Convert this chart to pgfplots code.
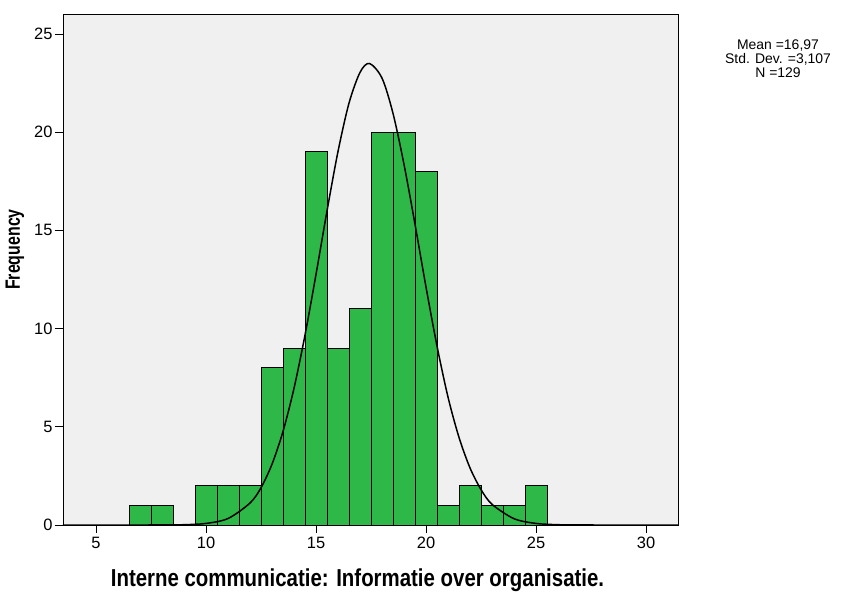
\documentclass[border=0pt]{standalone}
\usepackage{fontspec}
\setmainfont{Liberation Sans}
\usepackage{pgfplots}
\pgfplotsset{compat=1.18}
\definecolor{bargreen}{RGB}{46,184,72}
\definecolor{bggray}{RGB}{240,240,240}
\begin{document}
\begin{tikzpicture}
\path[use as bounding box] (-63bp,-73bp) rectangle (785bp,525bp);
\begin{axis}[
  at={(0,0)}, anchor=south west,
  scale only axis, width=615bp, height=511bp,
  xmin=3.5, xmax=31.45, ymin=0, ymax=26.02,
  axis background/.style={fill=bggray},
  axis line style={black, line width=0.9pt},
  xtick={5,10,15,20,25,30}, ytick={0,5,10,15,20,25},
  tick align=outside, tick pos=left,
  major tick length=8bp,
  tick style={black, line width=1pt},
  /pgf/number format/assume math mode=true,
  ticklabel style={font=\fontsize{16.5}{19}\selectfont},
  xticklabel style={yshift=-1bp},
  yticklabel style={xshift=1bp},
  clip=false,
]
\addplot[ybar, bar width=1, fill=bargreen, draw=black, line width=1pt] coordinates {
 (7,1) (8,1) (10,2) (11,2) (12,2) (13,8) (14,9) (15,19) (16,9) (17,11)
 (18,20) (19,20) (20,18) (21,1) (22,2) (23,1) (24,1) (25,2)
};
\addplot[black, line width=1.5pt, smooth, no markers] coordinates {
 (3.5,0) (7,0) (8,0.002) (9,0.015) (10,0.08) (11,0.33) (12,1.12) (12.5,1.9) (13,3.1) (13.5,4.77)
 (14,6.97) (14.5,9.68) (15,12.77) (15.5,16.0) (16,19.03) (16.5,21.49) (17,23.05)
 (17.43,23.5) (18,22.75) (18.5,20.95) (19,18.35) (19.5,15.3) (20,12.1) (20.5,9.1)
 (21,6.5) (21.5,4.45) (22,2.9) (22.5,1.8) (23,1.05) (24,0.32) (25,0.08) (26,0.015)
 (27,0.002) (28,0) (31.45,0)
};
\end{axis}
\node[font=\bfseries\fontsize{20.5}{24}\selectfont] at (294.5bp,-55bp) {\scalebox{1}[1.2]{Interne communicatie: Informatie over organisatie.}};
\node[font=\bfseries\fontsize{16}{19}\selectfont, rotate=90] at (-48bp,275.5bp) {\scalebox{1}[1.3]{Frequency}};
\node[font=\fontsize{14}{14}\selectfont, align=center, anchor=north, inner sep=0pt] at (715bp,485bp) {Mean =16,97\\Std. Dev. =3,107\\N =129};
\end{tikzpicture}
\end{document}
